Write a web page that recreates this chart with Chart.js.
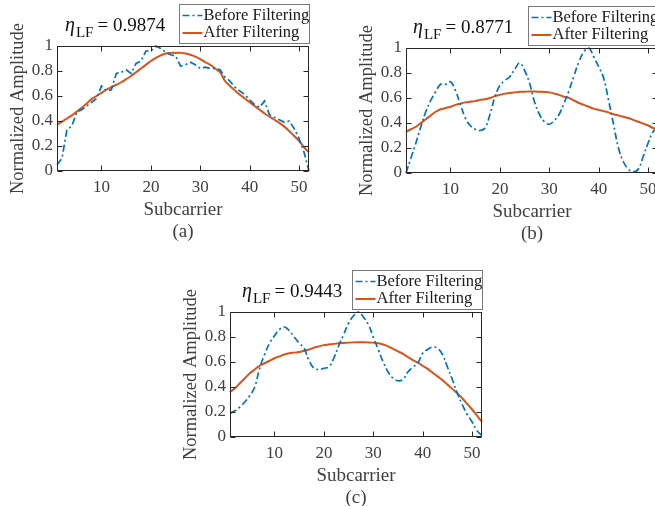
<!DOCTYPE html>
<html>
<head>
<meta charset="utf-8">
<script src="https://cdn.jsdelivr.net/npm/chart.js@4.4.1/dist/chart.umd.min.js"></script>
<style>
    html, body { margin: 0; padding: 0; background: #fff; overflow: hidden; width: 655px; height: 506px; }
    canvas { position: absolute; }
</style>
</head>
<body>
<canvas id="chartA" width="330" height="250" style="left:0px;top:0px"></canvas>
<canvas id="chartB" width="330" height="250" style="left:349px;top:2px"></canvas>
<canvas id="chartC" width="330" height="250" style="left:173px;top:266px"></canvas>
<script>
var subcarriers = [1, 2, 3, 4, 5, 6, 7, 8, 9, 10, 11, 12, 13, 14, 15, 16, 17, 18, 19, 20,
    21, 22, 23, 24, 25, 26, 27, 28, 29, 30, 31, 32, 33, 34, 35, 36, 37, 38, 39, 40,
    41, 42, 43, 44, 45, 46, 47, 48, 49, 50, 51, 52];
var xTicks = [10, 20, 30, 40, 50];
var yTicks = [0, 0.2, 0.4, 0.6, 0.8, 1];
var seriesNames = ['Before Filtering', 'After Filtering'];

// (a)
var beforeA = [0.05, 0.10, 0.33, 0.36, 0.47, 0.49, 0.52, 0.55, 0.58, 0.68,
    0.64, 0.65, 0.78, 0.79, 0.81, 0.78, 0.86, 0.88, 0.96, 0.96,
    1.00, 0.98, 0.95, 0.93, 0.92, 0.84, 0.85, 0.87, 0.85, 0.82,
    0.83, 0.82, 0.82, 0.81, 0.75, 0.72, 0.67, 0.64, 0.61, 0.57,
    0.53, 0.51, 0.56, 0.45, 0.43, 0.41, 0.39, 0.40, 0.34, 0.26,
    0.15, 0.00];
var afterA = [0.37, 0.395, 0.42, 0.445, 0.475, 0.505, 0.54, 0.575, 0.60, 0.625,
    0.65, 0.67, 0.69, 0.71, 0.735, 0.76, 0.79, 0.82, 0.85, 0.88,
    0.905, 0.925, 0.94, 0.945, 0.945, 0.945, 0.94, 0.93, 0.915, 0.895,
    0.87, 0.85, 0.82, 0.79, 0.72, 0.68, 0.645, 0.61, 0.58, 0.55,
    0.52, 0.49, 0.46, 0.435, 0.41, 0.385, 0.355, 0.32, 0.28, 0.24,
    0.19, 0.15];
// (b)
var beforeB = [0.00, 0.12, 0.24, 0.37, 0.49, 0.58, 0.65, 0.71, 0.71, 0.73,
    0.66, 0.55, 0.44, 0.38, 0.35, 0.34, 0.36, 0.47, 0.61, 0.70,
    0.74, 0.77, 0.83, 0.88, 0.82, 0.72, 0.57, 0.47, 0.41, 0.39,
    0.42, 0.47, 0.56, 0.66, 0.78, 0.89, 0.97, 1.00, 0.93, 0.85,
    0.76, 0.58, 0.39, 0.20, 0.09, 0.03, 0.01, 0.03, 0.13, 0.24,
    0.33, 0.36];
var afterB = [0.33, 0.35, 0.37, 0.40, 0.43, 0.46, 0.49, 0.51, 0.52, 0.53,
    0.545, 0.555, 0.565, 0.57, 0.575, 0.585, 0.59, 0.60, 0.615, 0.625,
    0.635, 0.64, 0.645, 0.65, 0.65, 0.652, 0.652, 0.65, 0.648, 0.645,
    0.635, 0.625, 0.61, 0.60, 0.58, 0.56, 0.545, 0.53, 0.515, 0.505,
    0.495, 0.485, 0.47, 0.46, 0.45, 0.44, 0.425, 0.41, 0.395, 0.38,
    0.36, 0.345];
// (c)
var beforeC = [0.19, 0.21, 0.24, 0.28, 0.33, 0.40, 0.55, 0.66, 0.75, 0.81,
    0.86, 0.88, 0.85, 0.80, 0.75, 0.71, 0.61, 0.55, 0.54, 0.55,
    0.56, 0.63, 0.73, 0.82, 0.91, 0.97, 1.00, 0.96, 0.90, 0.80,
    0.70, 0.60, 0.52, 0.47, 0.45, 0.46, 0.52, 0.56, 0.59, 0.67,
    0.70, 0.72, 0.71, 0.66, 0.56, 0.46, 0.35, 0.26, 0.18, 0.12,
    0.05, 0.01];
var afterC = [0.36, 0.39, 0.43, 0.47, 0.51, 0.54, 0.57, 0.59, 0.61, 0.63,
    0.645, 0.66, 0.67, 0.675, 0.68, 0.69, 0.70, 0.715, 0.725, 0.735,
    0.74, 0.745, 0.75, 0.752, 0.755, 0.757, 0.758, 0.758, 0.757, 0.755,
    0.75, 0.74, 0.725, 0.705, 0.685, 0.665, 0.64, 0.615, 0.595, 0.57,
    0.545, 0.515, 0.485, 0.455, 0.42, 0.385, 0.35, 0.31, 0.265, 0.22,
    0.17, 0.12];

var etaValues = ['0.9874', '0.8771', '0.9443'];
var panelLabels = ['(a)', '(b)', '(c)'];

var BLUE = '#0072BD';
var ORANGE = '#D95319';
var FONT = "'Liberation Serif', 'Times New Roman', serif";
var AXIS_TEXT = '#404040';

function points(vals) {
    return vals.map(function (v, i) { return { x: subcarriers[i], y: v }; });
}

// box with inward ticks, eta title and boxed legend (MATLAB look)
var panelDecor = {
    id: 'panelDecor',
    afterDraw: function (chart, args, opts) {
        var ctx = chart.ctx;
        var a = chart.chartArea;
        var xs = chart.scales.x, ys = chart.scales.y;
        ctx.save();

        ctx.strokeStyle = '#262626';
        ctx.lineWidth = 1;
        ctx.setLineDash([]);
        var L = Math.round(a.left) + 0.5, R = Math.round(a.right) - 0.5;
        var T = Math.round(a.top) + 0.5, B = Math.round(a.bottom) - 0.5;
        ctx.strokeRect(L, T, R - L, B - T);
        ctx.beginPath();
        xTicks.forEach(function (t) {
            var px = Math.round(xs.getPixelForValue(t)) + 0.5;
            ctx.moveTo(px, B); ctx.lineTo(px, B - 5);
            ctx.moveTo(px, T); ctx.lineTo(px, T + 5);
        });
        yTicks.forEach(function (t) {
            var py = Math.round(ys.getPixelForValue(t)) + 0.5;
            ctx.moveTo(L, py); ctx.lineTo(L + 5, py);
            ctx.moveTo(R, py); ctx.lineTo(R - 5, py);
        });
        ctx.stroke();

        // title: eta_LF = value
        var tx = a.left + opts.titleDx, ty = a.top - 15;
        ctx.fillStyle = '#111';
        ctx.textAlign = 'left';
        ctx.textBaseline = 'alphabetic';
        ctx.font = 'italic 20px ' + FONT;
        ctx.fillText('η', tx, ty);
        tx += ctx.measureText('η').width + 1;
        ctx.font = '15px ' + FONT;
        ctx.fillText('LF', tx, ty + 6);
        tx += ctx.measureText('LF').width + 4;
        ctx.font = '19px ' + FONT;
        ctx.fillText('= ' + opts.eta, tx, ty);

        // legend
        var bw = 130, bh = 39;
        var bx = Math.round(a.right - bw) + 0.5, by = Math.round(a.top - 42) + 0.5;
        ctx.fillStyle = '#fff';
        ctx.fillRect(bx, by, bw, bh);
        ctx.strokeStyle = '#7a7a7a';
        ctx.lineWidth = 1;
        ctx.strokeRect(bx, by, bw, bh);
        chart.data.datasets.forEach(function (ds, i) {
            var ry = by + 11 + i * 17.5;
            ctx.strokeStyle = ds.borderColor;
            ctx.lineWidth = ds.borderWidth;
            ctx.setLineDash(ds.borderDash || []);
            ctx.beginPath();
            ctx.moveTo(bx + 3, ry);
            ctx.lineTo(bx + 23, ry);
            ctx.stroke();
            ctx.setLineDash([]);
            ctx.fillStyle = '#1a1a1a';
            ctx.font = '16.5px ' + FONT;
            ctx.textBaseline = 'middle';
            ctx.fillText(ds.label, bx + 24, ry);
        });
        ctx.restore();
    }
};

function makePanel(id, before, after, idx, titleDx, beforeTension) {
    return new Chart(document.getElementById(id), {
        type: 'line',
        data: {
            datasets: [{
                label: seriesNames[0],
                data: points(before),
                borderColor: BLUE,
                borderWidth: 1.7,
                borderDash: [7, 3, 2, 3],
                pointRadius: 0,
                tension: beforeTension,
                fill: false,
                clip: 2
            }, {
                label: seriesNames[1],
                data: points(after),
                borderColor: ORANGE,
                borderWidth: 2,
                pointRadius: 0,
                tension: 0.4,
                fill: false,
                clip: 2
            }]
        },
        options: {
            responsive: false,
            animation: false,
            devicePixelRatio: 1,
            layout: { padding: { left: 0, top: 46, right: 21, bottom: 0 } },
            plugins: {
                legend: { display: false },
                tooltip: { enabled: false },
                panelDecor: { eta: etaValues[idx], titleDx: titleDx }
            },
            scales: {
                x: {
                    type: 'linear',
                    min: 1,
                    max: 52,
                    afterBuildTicks: function (s) { s.ticks = xTicks.map(function (v) { return { value: v }; }); },
                    afterFit: function (s) { s.height = 79; },
                    grid: { display: false, drawTicks: false },
                    border: { display: false },
                    ticks: { font: { family: FONT, size: 17 }, color: AXIS_TEXT, padding: 6, maxRotation: 0 },
                    title: {
                        display: true,
                        text: ['Subcarrier', panelLabels[idx]],
                        font: { family: FONT, size: 19, lineHeight: 1.18 },
                        color: AXIS_TEXT,
                        padding: { top: 0, bottom: 6.75 }
                    }
                },
                y: {
                    min: 0,
                    max: 1,
                    afterBuildTicks: function (s) { s.ticks = yTicks.map(function (v) { return { value: v }; }); },
                    afterFit: function (s) { s.width = 57; },
                    grid: { display: false, drawTicks: false },
                    border: { display: false },
                    ticks: {
                        font: { family: FONT, size: 17 },
                        color: AXIS_TEXT,
                        padding: 4,
                        callback: function (v) { return String(Math.round(v * 10) / 10); }
                    },
                    title: {
                        display: true,
                        text: 'Normalized Amplitude',
                        font: { family: FONT, size: 18.5, lineHeight: 1.2 },
                        color: AXIS_TEXT,
                        padding: { top: 7, bottom: 0 }
                    }
                }
            }
        },
        plugins: [panelDecor]
    });
}

makePanel('chartA', beforeA, afterA, 0, 8, 0);
makePanel('chartB', beforeB, afterB, 1, 7, 0.4);
makePanel('chartC', beforeC, afterC, 2, 12, 0.4);
</script>
</body>
</html>
